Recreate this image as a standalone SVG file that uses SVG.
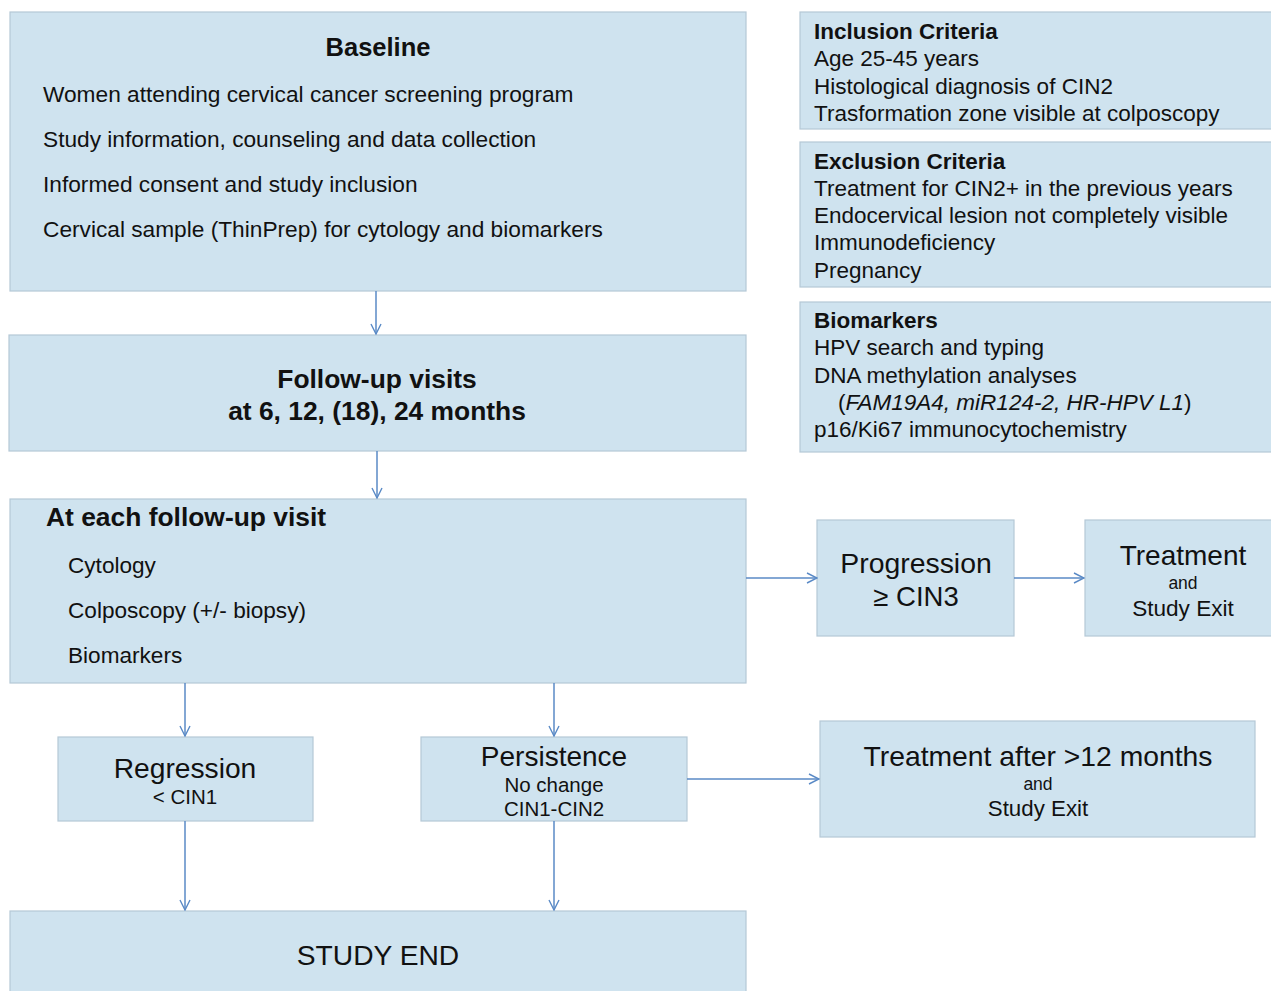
<svg xmlns="http://www.w3.org/2000/svg" width="1271" height="991" viewBox="0 0 1271 991">
<defs>
<style>
.box{fill:#cfe3ef;stroke:#b5c8d6;stroke-width:1.2}
text{font-family:"Liberation Sans",Arial,sans-serif;fill:#111}
.b{font-weight:bold}
.c{text-anchor:middle}
.r{font-size:22.5px}
.conn line{stroke:#5a8ac6;stroke-width:1.5;marker-end:url(#ah)}
</style>
<marker id="ah" viewBox="0 0 12 12" refX="11" refY="6" markerWidth="12" markerHeight="12" markerUnits="userSpaceOnUse" orient="auto">
<path d="M1,1 L11,6 L1,11" fill="none" stroke="#5a8ac6" stroke-width="1.4"/>
</marker>
</defs>
<rect width="1271" height="991" fill="#fff"/>

<g id="baseline">
<rect class="box" x="10" y="12" width="736" height="279"/>
<text class="b c" x="378" y="56" font-size="25.5">Baseline</text>
<text x="43" y="102" font-size="22.7">Women attending cervical cancer screening program</text>
<text x="43" y="147" font-size="22.7">Study information, counseling and data collection</text>
<text x="43" y="192" font-size="22.7">Informed consent and study inclusion</text>
<text x="43" y="237" font-size="22.7">Cervical sample (ThinPrep) for cytology and biomarkers</text>
</g>

<g id="inclusion">
<rect class="box" x="800" y="12" width="475" height="117"/>
<text class="b r" x="814" y="39">Inclusion Criteria</text>
<text class="r" x="814" y="66">Age 25-45 years</text>
<text class="r" x="814" y="94">Histological diagnosis of CIN2</text>
<text class="r" x="814" y="121">Trasformation zone visible at colposcopy</text>
</g>

<g id="exclusion">
<rect class="box" x="800" y="142" width="475" height="145"/>
<text class="b r" x="814" y="169">Exclusion Criteria</text>
<text class="r" x="814" y="196">Treatment for CIN2+ in the previous years</text>
<text class="r" x="814" y="223">Endocervical lesion not completely visible</text>
<text class="r" x="814" y="250">Immunodeficiency</text>
<text class="r" x="814" y="278">Pregnancy</text>
</g>

<g id="biomarkers">
<rect class="box" x="800" y="302" width="475" height="150"/>
<text class="b r" x="814" y="328">Biomarkers</text>
<text class="r" x="814" y="355">HPV search and typing</text>
<text class="r" x="814" y="383">DNA methylation analyses</text>
<text class="r" x="838" y="410">(<tspan font-style="italic">FAM19A4, miR124-2, HR-HPV L1</tspan>)</text>
<text class="r" x="814" y="437">p16/Ki67 immunocytochemistry</text>
</g>

<g id="followup">
<rect class="box" x="9" y="335" width="737" height="116"/>
<text class="b c" x="377" y="388" font-size="26.4">Follow-up visits</text>
<text class="b c" x="377" y="420" font-size="26.4">at 6, 12, (18), 24 months</text>
</g>

<g id="eachvisit">
<rect class="box" x="10" y="499" width="736" height="184"/>
<text class="b" x="46" y="526" font-size="26.4">At each follow-up visit</text>
<text x="68" y="573" font-size="22.6">Cytology</text>
<text x="68" y="618" font-size="22.6">Colposcopy (+/- biopsy)</text>
<text x="68" y="663" font-size="22.6">Biomarkers</text>
</g>

<g id="progression">
<rect class="box" x="817" y="520" width="197" height="116"/>
<text class="c" x="916" y="573" font-size="28.4">Progression</text>
<text class="c" x="916" y="606" font-size="27.5">≥ CIN3</text>
</g>

<g id="treatment">
<rect class="box" x="1085" y="520" width="190" height="116"/>
<text class="c" x="1183" y="565" font-size="28">Treatment</text>
<text class="c" x="1183" y="589" font-size="17.5">and</text>
<text class="c" x="1183" y="616" font-size="22.6">Study Exit</text>
</g>

<g id="regression">
<rect class="box" x="58" y="737" width="255" height="84"/>
<text class="c" x="185" y="778" font-size="28.2">Regression</text>
<text class="c" x="185" y="804" font-size="20.5">&lt; CIN1</text>
</g>

<g id="persistence">
<rect class="box" x="421" y="737" width="266" height="84"/>
<text class="c" x="554" y="766" font-size="28">Persistence</text>
<text class="c" x="554" y="792" font-size="20.5">No change</text>
<text class="c" x="554" y="816" font-size="20.5">CIN1-CIN2</text>
</g>

<g id="treatment-after">
<rect class="box" x="820" y="721" width="435" height="116"/>
<text class="c" x="1038" y="766" font-size="28.3">Treatment after &gt;12 months</text>
<text class="c" x="1038" y="790" font-size="17.5">and</text>
<text class="c" x="1038" y="816" font-size="22.3">Study Exit</text>
</g>

<g id="studyend">
<rect class="box" x="10" y="911" width="736" height="90"/>
<text class="c" x="378" y="965" font-size="28.2">STUDY END</text>
</g>

<g id="connectors" class="conn">
<line x1="376" y1="291" x2="376" y2="334"/>
<line x1="377" y1="451" x2="377" y2="498"/>
<line x1="746" y1="578" x2="817" y2="578"/>
<line x1="1014" y1="578" x2="1084" y2="578"/>
<line x1="185" y1="683" x2="185" y2="736"/>
<line x1="554" y1="683" x2="554" y2="736"/>
<line x1="185" y1="821" x2="185" y2="910"/>
<line x1="554" y1="821" x2="554" y2="910"/>
<line x1="687" y1="779" x2="819" y2="779"/>
</g>
</svg>
